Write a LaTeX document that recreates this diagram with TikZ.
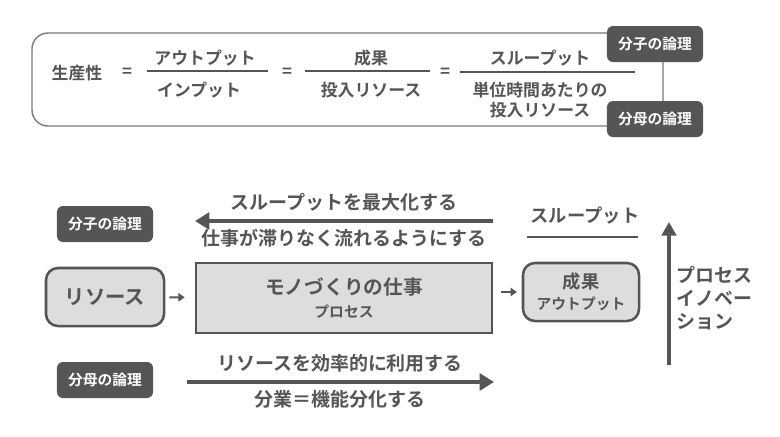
\documentclass[tikz,border=0pt]{standalone}
\usepackage{fontspec}
\setmainfont{Noto Sans CJK JP}[BoldFont={Noto Sans CJK JP Bold}]
\usetikzlibrary{positioning, arrows.meta}
\definecolor{dgray}{HTML}{555555}
\definecolor{lgray}{HTML}{DDDDDD}
\definecolor{fgray}{HTML}{7A7A7A}
\tikzstyle{tag} = [rectangle, rounded corners=1.5mm, fill=dgray, text=white, font=\bfseries\fontsize{10.5}{12}\selectfont, minimum width=2.4cm, minimum height=0.9cm]
\tikzstyle{eq} = [text=dgray, inner sep=0pt, font=\bfseries\fontsize{12}{14.5}\selectfont, align=center]
\tikzstyle{lbl} = [text=dgray, inner sep=0pt, font=\bfseries\fontsize{13.5}{16}\selectfont]
\tikzstyle{box} = [rectangle, draw=dgray, line width=1.8pt, fill=lgray, text=dgray, align=center]
\tikzstyle{bigarrow} = [draw=dgray, line width=3.5pt, -{Triangle[length=3.6mm,width=4.2mm]}]
\tikzstyle{smallarrow} = [draw=dgray, line width=1.4pt, -{Triangle[length=1.6mm,width=2.1mm]}]

\begin{document}
\begin{tikzpicture}[x=0.025cm, y=-0.025cm]
\useasboundingbox (0,0) rectangle (780,436);

% formula
\draw [fgray, line width=1pt, rounded corners=4mm] (32,33) rectangle (663,126);
\node (num) [tag] at (655,44) {分子の論理};
\node (den) [tag] at (655,119) {分母の論理};

\node (prod) [eq] at (77,73) {生産性};
\node (eq1) [eq] at (127,73) {=};
\node (out) [eq] at (205,58) {アウトプット};
\node (in) [eq] at (199,90) {インプット};
\draw [dgray, line width=1pt] (147,71) -- (268,71);
\node (eq2) [eq] at (287,73) {=};
\node (res) [eq] at (371,58) {成果};
\node (inres) [eq] at (371,90) {投入リソース};
\draw [dgray, line width=1pt] (305,71) -- (430,71);
\node (eq3) [eq] at (445,73) {=};
\node (thru) [eq] at (540,58) {スループット};
\node (unit) [eq] at (540,100) {単位時間あたりの\\投入リソース};
\draw [dgray, line width=1pt] (460,72) -- (635,72);

% process
\node (lnum) [tag] at (105,224) {分子の論理};
\node (lden) [tag] at (105,380) {分母の論理};
\node (rsrc) [box, rounded corners=3mm, minimum width=2.95cm, minimum height=1.45cm, font=\bfseries\fontsize{14.5}{17}\selectfont] at (105,297) {リソース};
\node (work) [box, minimum width=7.4cm, minimum height=1.75cm] at (344,298) {{\bfseries\fontsize{14}{17}\selectfont モノづくりの仕事}\\[4pt]{\bfseries\fontsize{10.5}{12}\selectfont プロセス}};
\node (outc) [box, rounded corners=3mm, minimum width=2.9cm, minimum height=1.45cm] at (581,292) {{\bfseries\fontsize{13}{15}\selectfont 成果}\\[3pt]{\bfseries\fontsize{10.5}{12}\selectfont アウトプット}};
\draw [smallarrow, shorten <=0.1cm, shorten >=0.25cm] (rsrc) -- (work);
\draw [smallarrow, shorten <=0.18cm, shorten >=0.12cm] (work.east |- outc) -- (outc);

\coordinate (ts) at (493,221);
\coordinate (te) at (195,221);
\draw [bigarrow] (ts) -- (te);
\node (max) [lbl] at (344,202) {スループットを最大化する};
\node (flow) [lbl] at (344,238) {仕事が滞りなく流れるようにする};

\coordinate (bs) at (187,382);
\coordinate (be) at (494,382);
\draw [bigarrow] (bs) -- (be);
\node (eff) [lbl] at (340,363) {リソースを効率的に利用する};
\node (div) [lbl] at (340,399) {分業＝機能分化する};

\node (tput) [lbl, font=\bfseries\fontsize{13}{16}\selectfont] at (585,216) {スループット};
\draw [dgray, line width=1.8pt] (527,237) -- (638,237);

\coordinate (vs) at (669,365);
\coordinate (ve) at (669,222);
\draw [bigarrow, line width=2.8pt, -{Triangle[length=3.4mm,width=3.6mm]}] (vs) -- (ve);
\node (inno) [lbl, anchor=west, align=left, font=\bfseries\fontsize{13.5}{16.5}\selectfont] at (676,298) {プロセス\\イノベー\\ション};

\end{tikzpicture}
\end{document}
